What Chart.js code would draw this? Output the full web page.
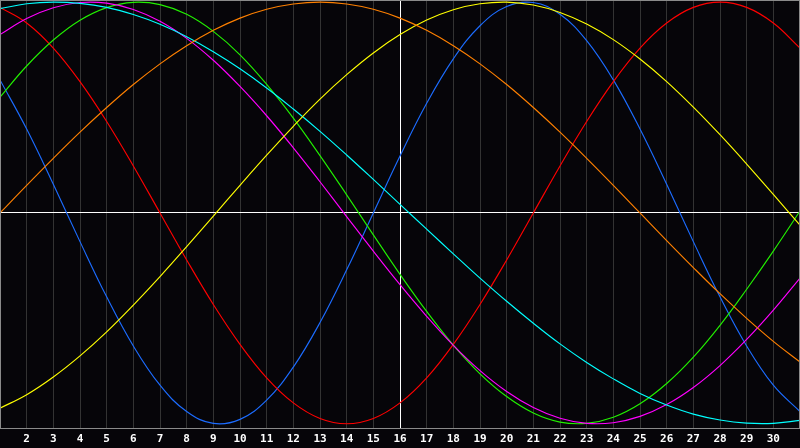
<!DOCTYPE html>
<html>
<head>
<meta charset="utf-8">
<script src="https://cdn.jsdelivr.net/npm/chart.js@4/dist/chart.umd.min.js"></script>
<style>
    html, body { margin: 0; padding: 0; background: #060509; }
    #wrap { width: 800px; height: 448px; }
</style>
</head>
<body>
<div id="wrap"><canvas id="bioChart"></canvas></div>
<script>
// Dias del mes
var dias = [1, 2, 3, 4, 5, 6, 7, 8, 9, 10, 11, 12, 13, 14, 15, 16,
            17, 18, 19, 20, 21, 22, 23, 24, 25, 26, 27, 28, 29, 30, 31];
var hoy = 16; // linea blanca vertical

// Valores (-1 .. 1)
var fisico = [0.631, 0.398, 0.136, -0.136, -0.398, -0.631, -0.817, -0.942, -0.998, -0.979,
              -0.888, -0.731, -0.520, -0.270, 0, 0.270, 0.520, 0.731, 0.888, 0.979,
              0.998, 0.942, 0.817, 0.631, 0.398, 0.136, -0.136, -0.398, -0.631, -0.817, -0.942];
var emocional = [0.975, 0.901, 0.782, 0.623, 0.434, 0.223, 0, -0.223, -0.434, -0.623,
                 -0.782, -0.901, -0.975, -1.0, -0.975, -0.901, -0.782, -0.623, -0.434, -0.223,
                 0, 0.223, 0.434, 0.623, 0.782, 0.901, 0.975, 1.0, 0.975, 0.901, 0.782];
var intelectual = [0.549, 0.697, 0.820, 0.914, 0.974, 0.999, 0.988, 0.942, 0.861, 0.750,
                   0.610, 0.450, 0.272, 0.086, -0.104, -0.291, -0.467, -0.627, -0.763, -0.871,
                   -0.949, -0.992, -0.998, -0.969, -0.905, -0.809, -0.684, -0.533, -0.362, -0.181, 0.009];
var intuitivo = [0.846, 0.922, 0.973, 0.998, 0.995, 0.965, 0.909, 0.828, 0.724, 0.600,
                 0.461, 0.309, 0.148, -0.017, -0.181, -0.340, -0.490, -0.628, -0.748, -0.847,
                 -0.923, -0.974, -0.998, -0.995, -0.965, -0.909, -0.828, -0.724, -0.600, -0.461, -0.309];
var espiritual = [0.969, 0.992, 1.0, 0.994, 0.975, 0.941, 0.895, 0.836, 0.765, 0.684,
                  0.593, 0.493, 0.387, 0.275, 0.159, 0.041, -0.077, -0.194, -0.309, -0.419,
                  -0.523, -0.621, -0.709, -0.787, -0.856, -0.911, -0.954, -0.982, -0.997, -0.998, -0.984];
var conciencia = [0, 0.131, 0.259, 0.383, 0.500, 0.609, 0.707, 0.793, 0.866, 0.924,
                  0.966, 0.991, 1.0, 0.991, 0.966, 0.924, 0.866, 0.793, 0.707, 0.609,
                  0.500, 0.383, 0.259, 0.131, 0, -0.131, -0.259, -0.383, -0.500, -0.609, -0.707];
var estetico = [-0.926, -0.862, -0.778, -0.678, -0.564, -0.437, -0.302, -0.160, -0.015, 0.131,
                0.274, 0.411, 0.540, 0.656, 0.759, 0.846, 0.915, 0.964, 0.992, 1.0,
                0.986, 0.951, 0.896, 0.822, 0.730, 0.623, 0.502, 0.371, 0.232, 0.088, -0.058];

window.onload = function () {

    function puntos(valores) {
        var lista = [];
        for (var i = 0; i < dias.length; i++) {
            lista.push({ x: dias[i], y: valores[i] });
        }
        return lista;
    }

    function serie(nombre, valores, color) {
        return {
            label: nombre,
            data: puntos(valores),
            borderColor: color,
            borderWidth: 1.15,
            pointRadius: 0,
            pointHoverRadius: 0,
            tension: 0.4,
            fill: false
        };
    }

    // Marco gris alrededor del area
    var marco = {
        id: 'marco',
        afterDraw: function (chart) {
            var a = chart.chartArea;
            var c = chart.ctx;
            c.save();
            c.strokeStyle = '#8a8a8a';
            c.lineWidth = 1;
            c.strokeRect(a.left + 0.5, a.top + 0.5, a.right - a.left - 1, a.bottom - a.top);
            c.restore();
        }
    };

    var fondo = {
        id: 'fondo',
        beforeDraw: function (chart) {
            var c = chart.ctx;
            c.save();
            c.fillStyle = '#060509';
            c.fillRect(0, 0, chart.width, chart.height);
            c.restore();
        }
    };

    var config = {
        type: 'line',
        data: {
            datasets: [
                serie('Conciencia', conciencia, '#ff8000'),
                serie('Estetico', estetico, '#ffff00'),
                serie('Espiritual', espiritual, '#00ffff'),
                serie('Intuitivo', intuitivo, '#ff00ff'),
                serie('Intelectual', intelectual, '#22f000'),
                serie('Emocional', emocional, '#ff0000'),
                serie('Fisico', fisico, '#1c6cff')
            ]
        },
        options: {
            responsive: true,
            maintainAspectRatio: false,
            animation: false,
            devicePixelRatio: 1,
            layout: { autoPadding: false, padding: 0 },
            plugins: {
                legend: { display: false },
                tooltip: { enabled: false }
            },
            scales: {
                x: {
                    type: 'linear',
                    min: 1,
                    max: 31,
                    border: { display: false },
                    afterFit: function (scale) {
                        scale.paddingLeft = 0;
                        scale.paddingRight = 0;
                        scale.height = 20;
                    },
                    grid: {
                        drawTicks: false,
                        color: function (ctx) {
                            return ctx.tick && ctx.tick.value === hoy ? '#ffffff' : '#333333';
                        }
                    },
                    ticks: {
                        stepSize: 1,
                        padding: 5,
                        color: '#ffffff',
                        font: { family: 'DejaVu Sans Mono', size: 11, weight: 'bold' },
                        maxRotation: 0,
                        autoSkip: false,
                        callback: function (v) {
                            return (v === 1 || v === 31) ? '' : v;
                        }
                    }
                },
                y: {
                    min: -1.02,
                    max: 1.01,
                    border: { display: false },
                    afterFit: function (scale) {
                        scale.width = 0;
                    },
                    grid: {
                        drawTicks: false,
                        color: function (ctx) {
                            return ctx.tick && ctx.tick.value === 0 ? '#ffffff' : 'rgba(0,0,0,0)';
                        }
                    },
                    ticks: { display: false, stepSize: 0.5 }
                }
            }
        },
        plugins: [fondo, marco]
    };

    window.bioChart = new Chart(document.getElementById('bioChart'), config);
};
</script>
</body>
</html>
